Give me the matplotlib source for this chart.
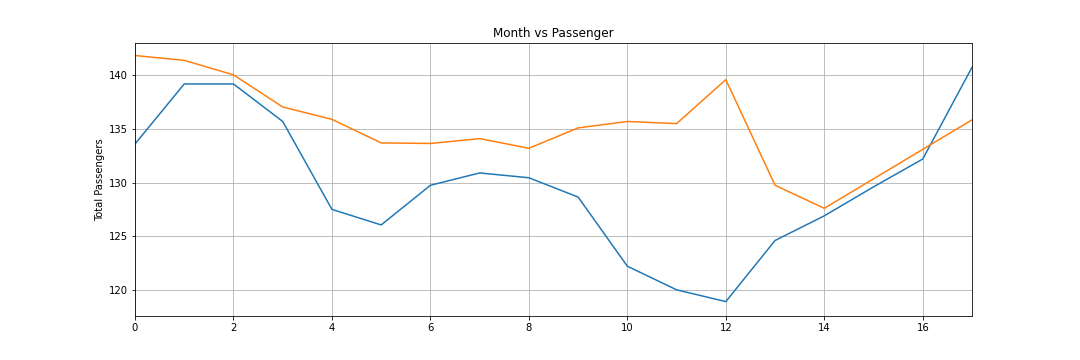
import numpy as np
import matplotlib
matplotlib.use("Agg")
import matplotlib.pyplot as plt

months = np.arange(18)
actual = [133.6, 139.2, 139.2, 135.7, 127.5, 126.05, 129.75, 130.9, 130.45, 128.65,
          122.2, 120.0, 118.9, 124.6, 126.9, 129.6, 132.2, 140.75]
predicted = [141.85, 141.4, 140.05, 137.05, 135.9, 133.7, 133.65, 134.1, 133.2, 135.1,
             135.7, 135.5, 139.6, 129.75, 127.6, 130.35, 133.1, 135.85]

fig = plt.figure(figsize=(15, 5), dpi=72)
ax = fig.add_axes([0.125, 0.122, 0.775, 0.758])
ax.plot(months, actual, color="#1f77b4")
ax.plot(months, predicted, color="#ff7f0e")
ax.set_xlim(0, 17)
ax.set_ylim(117.55, 143.0)
ax.set_title("Month vs Passenger")
ax.set_ylabel("Total Passengers")
ax.grid(True)

plt.savefig("out.png", dpi=72)
